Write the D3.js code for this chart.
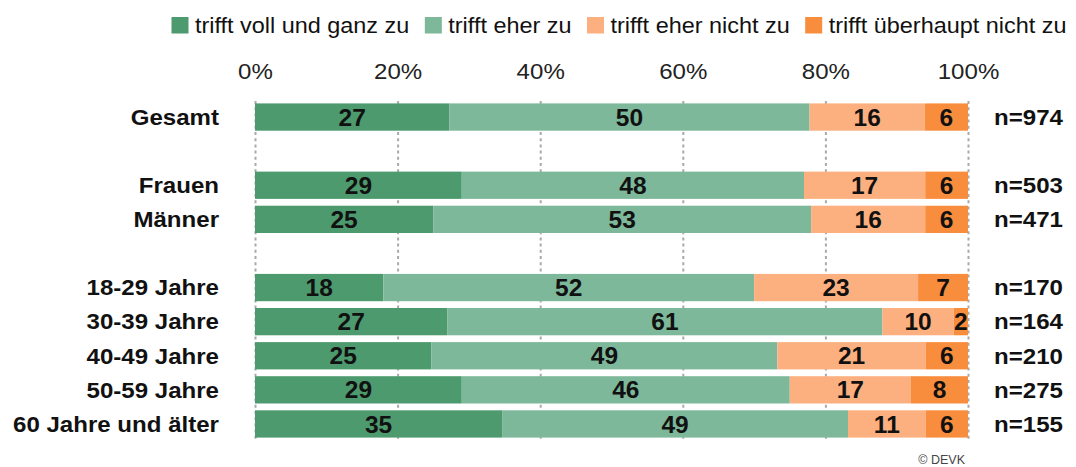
<!DOCTYPE html>
<html>
<head>
<meta charset="utf-8">
<script src="https://cdn.jsdelivr.net/npm/d3@7"></script>
<style>
  body { margin: 0; background: #fff; }
  svg { display: block; font-family: "Liberation Sans", Arial, sans-serif; }
</style>
</head>
<body>
<div id="canvas"></div>
<script>
// categories (rows) and which ones get an empty row after them
var categories = ["Gesamt", "Frauen", "Männer", "18-29 Jahre", "30-39 Jahre", "40-49 Jahre", "50-59 Jahre", "60 Jahre und älter"]
var gapAfter = ["Gesamt", "Männer"]

var seriesNames = ["trifft voll und ganz zu", "trifft eher zu", "trifft eher nicht zu", "trifft überhaupt nicht zu"]
var vollUndGanz = [27, 29, 25, 18, 27, 25, 29, 35]
var eher = [50, 48, 53, 52, 61, 49, 46, 49]
var eherNicht = [16, 17, 16, 23, 10, 21, 17, 11]
var ueberhauptNicht = [6, 6, 6, 7, 2, 6, 8, 6]
var nValues = [974, 503, 471, 170, 164, 210, 275, 155]

var ticks = [0, 20, 40, 60, 80, 100]
var colors = ["#4c9a6e", "#7db89a", "#fdb07f", "#f98d3e"]

var width = 1076
var height = 467
var stretch = 1.12

var svg = d3.select("#canvas")
    .append("svg")
    .attr("width", width)
    .attr("height", height)

// row keys incl. empty spacer rows
var rowKeys = []
categories.forEach(function (c) {
    rowKeys.push(c)
    if (gapAfter.indexOf(c) >= 0) rowKeys.push("gap-" + c)
})

var keys = ["a", "b", "c", "d"]
var table = categories.map(function (c, i) {
    var raw = [vollUndGanz[i], eher[i], eherNicht[i], ueberhauptNicht[i]]
    var sum = d3.sum(raw)
    var row = { cat: c, n: nValues[i], raw: raw }
    keys.forEach(function (k, j) { row[k] = raw[j] / sum * 100 })
    return row
})

var xScale = d3.scaleLinear().domain([0, 100]).range([255, 968])
var yScale = d3.scaleBand().domain(rowKeys).range([100, 441]).paddingInner(0.2).paddingOuter(0.1)

var gridTop = 101
var gridBottom = 441

// axis on top + dotted gridlines
var xAxis = svg.append("g")
    .attr("transform", `translate(0,${gridTop})`)
    .call(d3.axisTop(xScale)
        .tickValues(ticks)
        .tickFormat(function (d) { return d + "%" })
        .tickSize(-(gridBottom - gridTop))
        .tickPadding(22.5))
xAxis.select(".domain").remove()
xAxis.selectAll(".tick line")
    .attr("stroke", "#a9a9a9")
    .attr("stroke-width", 2)
    .attr("stroke-dasharray", "3,3.2")
xAxis.selectAll(".tick text")
    .attr("font-size", 21.5)
    .attr("font-family", "Liberation Sans, Arial, sans-serif")
    .attr("fill", "#222")
    .attr("transform", `scale(${stretch},1)`)

// stacked bars
var stacked = d3.stack().keys(keys)(table)

var layers = svg.selectAll(".layer")
    .data(stacked)
    .enter()
    .append("g")
    .attr("class", "layer")
    .attr("fill", function (d, i) { return colors[i] })

layers.selectAll("rect")
    .data(function (d) { return d })
    .enter()
    .append("rect")
    .attr("x", function (d) { return xScale(d[0]) })
    .attr("y", function (d) { return yScale(d.data.cat) })
    .attr("width", function (d) { return xScale(d[1]) - xScale(d[0]) })
    .attr("height", yScale.bandwidth())

// value labels
stacked.forEach(function (layer, j) {
    svg.append("g").selectAll("text")
        .data(layer)
        .enter()
        .append("text")
        .attr("x", function (d) { return (xScale(d[0]) + xScale(d[1])) / 2 })
        .attr("y", function (d) { return yScale(d.data.cat) + yScale.bandwidth() / 2 + 8.6 })
        .attr("text-anchor", "middle")
        .attr("font-size", 24.5)
        .attr("font-weight", "bold")
        .attr("fill", "#111")
        .text(function (d) { return d.data.raw[j] })
})

// category labels
svg.append("g").selectAll("text")
    .data(table)
    .enter()
    .append("text")
    .attr("transform", function (d) {
        return `translate(219,${yScale(d.cat) + yScale.bandwidth() / 2 + 7.8}) scale(${stretch},1)`
    })
    .attr("text-anchor", "end")
    .attr("font-size", 21.5)
    .attr("font-weight", "bold")
    .attr("fill", "#111")
    .text(function (d) { return d.cat })

// n= labels
svg.append("g").selectAll("text")
    .data(table)
    .enter()
    .append("text")
    .attr("transform", function (d) {
        return `translate(994,${yScale(d.cat) + yScale.bandwidth() / 2 + 7.8}) scale(${stretch},1)`
    })
    .attr("text-anchor", "start")
    .attr("font-size", 21.5)
    .attr("font-weight", "bold")
    .attr("fill", "#111")
    .text(function (d) { return "n=" + d.n })

// legend
var legend = svg.append("g").attr("transform", "translate(171.5,0)")
var lx = 0
seriesNames.forEach(function (name, i) {
    var item = legend.append("g").attr("transform", `translate(${lx},0)`)
    item.append("rect")
        .attr("x", 0)
        .attr("y", 17)
        .attr("width", 17)
        .attr("height", 16.5)
        .attr("fill", colors[i])
    var t = item.append("text")
        .attr("transform", `translate(23.5,33.3) scale(1.1,1)`)
        .attr("font-size", 21.3)
        .attr("fill", "#111")
        .text(name)
    lx += 23.5 + t.node().getComputedTextLength() * 1.1 + 15.5
})

// source
svg.append("text")
    .attr("x", 965)
    .attr("y", 463.5)
    .attr("text-anchor", "end")
    .attr("font-size", 12.5)
    .attr("fill", "#444")
    .text("© DEVK")
</script>
</body>
</html>
